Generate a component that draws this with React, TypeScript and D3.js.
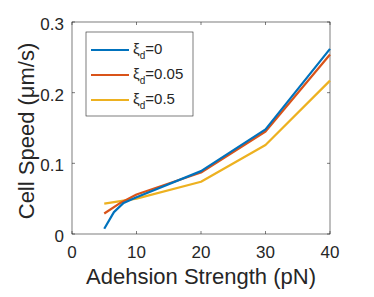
import React, { useRef, useEffect } from 'react';
import * as d3 from 'd3';

// Valeurs
const xTicks = [0, 10, 20, 30, 40];
const yTicks = [0, 0.1, 0.2, 0.3];
const yTickLabels = ['0', '0.1', '0.2', '0.3'];

const blueX = [5, 6.5, 8, 10, 20, 30, 40];
const blueY = [0.0075, 0.031, 0.044, 0.052, 0.089, 0.148, 0.262];
const orangeX = [5, 7.5, 10, 20, 30, 40];
const orangeY = [0.029, 0.044, 0.056, 0.087, 0.145, 0.254];
const yellowX = [5, 10, 20, 30, 40];
const yellowY = [0.043, 0.05, 0.074, 0.126, 0.217];

const seriesNames = ['0', '0.05', '0.5'];
const colors = ['#0072BD', '#D95319', '#EDB120'];

const W = 374;
const H = 297;
const margin = { left: 72, right: 44, top: 22, bottom: 63 };
const TEXT = '#262626';

const App: React.FC = () => {
  const svgRef = useRef<SVGSVGElement>(null);

  useEffect(() => {
    if (!svgRef.current) return;
    const svg = d3.select(svgRef.current);
    svg.selectAll('*').remove();

    const x = d3.scaleLinear().domain([0, 40]).range([margin.left, W - margin.right]);
    const y = d3.scaleLinear().domain([0, 0.3]).range([H - margin.bottom, margin.top]);

    const font = '"Liberation Sans", Arial, sans-serif';

    // cadre
    svg.append('rect')
      .attr('x', x(0)).attr('y', y(0.3))
      .attr('width', x(40) - x(0)).attr('height', y(0) - y(0.3))
      .attr('fill', 'white').attr('stroke', TEXT).attr('stroke-width', 0.6);

    // graduations (vers l'intérieur, en haut et à droite aussi)
    const tl = 3;
    xTicks.forEach(t => {
      svg.append('line').attr('x1', x(t)).attr('x2', x(t)).attr('y1', y(0)).attr('y2', y(0) - tl)
        .attr('stroke', TEXT).attr('stroke-width', 0.6);
      svg.append('line').attr('x1', x(t)).attr('x2', x(t)).attr('y1', y(0.3)).attr('y2', y(0.3) + tl)
        .attr('stroke', TEXT).attr('stroke-width', 0.6);
      svg.append('text').attr('x', x(t)).attr('y', y(0) + 24)
        .attr('text-anchor', 'middle').attr('font-family', font).attr('font-size', 17)
        .attr('fill', TEXT).text(String(t));
    });
    yTicks.forEach((t, i) => {
      svg.append('line').attr('x1', x(0)).attr('x2', x(0) + tl).attr('y1', y(t)).attr('y2', y(t))
        .attr('stroke', TEXT).attr('stroke-width', 0.6);
      svg.append('line').attr('x1', x(40)).attr('x2', x(40) - tl).attr('y1', y(t)).attr('y2', y(t))
        .attr('stroke', TEXT).attr('stroke-width', 0.6);
      svg.append('text').attr('x', x(0) - 8).attr('y', y(t) + 8)
        .attr('text-anchor', 'end').attr('font-family', font).attr('font-size', 17)
        .attr('fill', TEXT).text(yTickLabels[i]);
    });

    // courbes
    const series = [
      blueX.map((v, i) => [v, blueY[i]] as [number, number]),
      orangeX.map((v, i) => [v, orangeY[i]] as [number, number]),
      yellowX.map((v, i) => [v, yellowY[i]] as [number, number]),
    ];
    const line = d3.line<[number, number]>().x(d => x(d[0])).y(d => y(d[1]));
    [2, 1, 0].forEach(k => {
      svg.append('path').datum(series[k])
        .attr('fill', 'none').attr('stroke', colors[k]).attr('stroke-width', 2.2)
        .attr('stroke-linejoin', 'round')
        .attr('d', line);
    });

    // titres des axes
    svg.append('text')
      .attr('x', (x(0) + x(40)) / 2).attr('y', 284)
      .attr('text-anchor', 'middle').attr('font-family', font).attr('font-size', 22)
      .attr('fill', TEXT).text('Adehsion Strength (pN)');
    svg.append('text')
      .attr('transform', `translate(34, ${(y(0) + y(0.3)) / 2 + 3}) rotate(-90)`)
      .attr('text-anchor', 'middle').attr('font-family', font).attr('font-size', 22)
      .attr('fill', TEXT).text('Cell Speed (μm/s)');

    // légende
    const lg = svg.append('g');
    lg.append('rect').attr('x', 86).attr('y', 32).attr('width', 107).attr('height', 84)
      .attr('fill', 'white').attr('stroke', TEXT).attr('stroke-width', 0.6);
    seriesNames.forEach((name, i) => {
      const yy = 50 + i * 25;
      lg.append('line').attr('x1', 91).attr('x2', 129).attr('y1', yy).attr('y2', yy)
        .attr('stroke', colors[i]).attr('stroke-width', 2.2);
      const t = lg.append('text').attr('x', 133).attr('y', yy + 4)
        .attr('font-family', font).attr('font-size', 15).attr('fill', TEXT);
      t.append('tspan').text('ξ');
      t.append('tspan').attr('dy', 5).attr('font-size', 10).text('d');
      t.append('tspan').attr('dy', -5).text('=' + name);
    });
  }, []);

  return <svg ref={svgRef} width={W} height={H} style={{ display: 'block', margin: '-8px' }} />;
};

export default App;
